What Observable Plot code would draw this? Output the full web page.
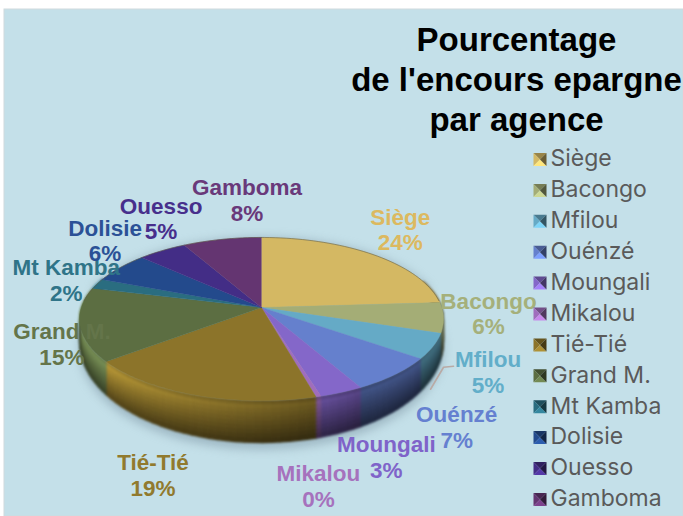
<!DOCTYPE html>
<html>
<head>
<meta charset="utf-8">
<script src="https://cdn.jsdelivr.net/npm/d3@7"></script>
<script src="https://cdn.jsdelivr.net/npm/@observablehq/plot@0.6"></script>
<style>
html,body{margin:0;padding:0;background:#fff}
svg{display:block}
</style>
</head>
<body>
<div id="chart"></div>
<script>
const agencies = ["Siège","Bacongo","Mfilou","Ouénzé","Moungali","Mikalou","Tié-Tié","Grand M.","Mt Kamba","Dolisie","Ouesso","Gamboma"];
const shares = [24, 6, 5, 7, 3.4, 0.4, 18.6, 14.6, 2, 6, 5, 8];
const sliceColors = ["#d4b863","#a4ad76","#65aac6","#6580cd","#8467c9","#a06dbd","#8c742a","#5c6e42","#2a6d80","#234a8c","#432d86","#643571"];
const labelColors = ["#dcb95f","#a5b07b","#62aec9","#6580d0","#7f63c9","#a672bd","#917a2e","#64754a","#2f7488","#2b5196","#472f8c","#69397a"];
const titleText = "Pourcentage\nde l'encours epargne\npar agence";
// label placement, as pixel offsets from the rim point at each slice's middle angle
const labelOffsets = [[27,-25.5],[45,-4.5],[55,25.5],[62,52.5],[45,64.5],[0,89.5],[-43,79.5],[-18,19.5],[-31,-4.5],[-15,-27.5],[-1,-32.5],[25,-39.5]];
const leaderOffsets = [[20.5,20],[10.5,21],[-2.5,43]];

const W = 683, H = 516;
const boldFont = "'Liberation Sans', Arial, sans-serif";
const legendFont = "Inter, 'Liberation Sans', sans-serif";
const apex = {x:261, y:307}, B = 180.2, A = 79.9, e = 0.141;
const project = th => {
  const z = Math.cos(th), s = Math.sin(th), den = 1 + e*z;
  return {x: apex.x + B*s/den, y: apex.y - A*z/den};
};
const depth = th => 19 - 23*Math.cos(th);
const total = d3.sum(shares);
let acc = 0;
const slices = agencies.map((name,i)=>{
  const a0 = acc/total*2*Math.PI; acc += shares[i];
  const a1 = acc/total*2*Math.PI;
  return {name, i, a0, a1, mid:(a0+a1)/2, share:shares[i], color:sliceColors[i], labelColor:labelColors[i]};
});
const scale = (c,k)=>{const r=d3.rgb(c);return d3.rgb(Math.min(255,r.r*k),Math.min(255,r.g*k),Math.min(255,r.b*k)).formatHex();};
const steps = (a0,a1,step)=>{const n=Math.max(1,Math.ceil((a1-a0)/step));return d3.range(n+1).map(k=>a0+(a1-a0)*k/n);};
const rad = d=>d*Math.PI/180;

const topRows = slices.flatMap(s=>{
  const pts=[{...apex},...steps(s.a0,s.a1,rad(1)).map(project)];
  return pts.map(p=>({id:s.name,x:p.x,y:p.y,color:s.color}));
});
const rimRows = steps(rad(-85),rad(85),rad(2)).map(project);
const angular = th=>{const d=th*180/Math.PI;return d<=150?0.5:d>=230?1:0.5+(d-150)/80*0.5;};
const vertical = t=>t<0.12?1.0+t*2.5:1.3-(t-0.12)/0.88*0.7;
const bandsT = d3.range(0,1.0001,1/10);
const sideRows = [];
slices.forEach(s=>{
  const lo=Math.max(s.a0,rad(70)), hi=Math.min(s.a1,rad(292));
  if(hi<=lo) return;
  const ths=steps(lo,hi,rad(2.5));
  for(let k=0;k<ths.length-1;k++){
    for(let b=0;b<bandsT.length-1;b++){
      const t0=bandsT[b],t1=bandsT[b+1],a=ths[k],c=ths[k+1];
      const pa=project(a),pc=project(c);
      const col=scale(s.color,angular((a+c)/2)*vertical((t0+t1)/2));
      const id=`${s.name}-${k}-${b}`;
      [[pa.x,pa.y+depth(a)*t0],[pc.x,pc.y+depth(c)*t0],[pc.x,pc.y+depth(c)*t1],[pa.x,pa.y+depth(a)*t1]]
        .forEach(([x,y])=>sideRows.push({id,x,y,color:col}));
    }
  }
});
const shadowRows = steps(rad(75),rad(285),rad(3)).map(th=>{const p=project(th);return {x:p.x,y:p.y+depth(th)+7};});
const shadowClosed = [...steps(rad(285),rad(435),rad(5)).map(project),...shadowRows];

const labels = slices.map((s,i)=>{
  const p=project(s.mid);
  return {x:p.x+labelOffsets[i][0],y:p.y+labelOffsets[i][1],text:`${s.name}\n${Math.round(s.share)}%`,color:s.labelColor};
});
const mfilouRim = project(slices[2].mid);
const leader = leaderOffsets.map(([dx,dy])=>({x:mfilouRim.x+dx,y:mfilouRim.y+dy}));

const legendX=533, legendY=i=>158.5+30.9*i, sw=13;
const legendRows = slices.flatMap(s=>{
  const x0=legendX,x1=legendX+sw,y0=legendY(s.i)-sw/2+0.5,y1=y0+sw,cx=x0+sw/2,cy=y0+sw/2;
  const faces=[
    ["t",[[x0,y0],[x1,y0],[cx,cy]],0.72],
    ["l",[[x0,y0],[x0,y1],[cx,cy]],1.0],
    ["b",[[x0,y1],[x1,y1],[cx,cy]],1.25],
    ["r",[[x1,y0],[x1,y1],[cx,cy]],0.5]
  ];
  return faces.flatMap(([f,pts,k])=>pts.map(([x,y])=>({id:s.name+f,x,y,color:scale(s.color,k)})));
});

const chart = Plot.plot({
  width:W,height:H,margin:0,
  style:{background:"#fff"},
  x:{domain:[0,W],range:[0,W],axis:null},
  y:{domain:[0,H],range:[0,H],axis:null},
  color:{type:"identity"},
  marks:[
    Plot.rect([{}],{x1:()=>4,x2:()=>W,y1:()=>9,y2:()=>H,fill:"#c4e0e9",stroke:"#d0dadd",strokeWidth:1}),
    Plot.text([titleText],{x:()=>516,y:()=>78,text:d=>d,fontFamily:boldFont,fontWeight:700,fontSize:33,lineHeight:1.21,fill:"#000",textAnchor:"middle",lineAnchor:"middle"}),
    Plot.line(shadowClosed,{x:"x",y:"y",fill:"#7f98a6",fillOpacity:0.55,stroke:"none"}),
    Plot.line(sideRows,{x:"x",y:"y",z:"id",fill:"color",stroke:"color",strokeWidth:1.3}),
    Plot.line(topRows,{x:"x",y:"y",z:"id",fill:"color",stroke:"color",strokeWidth:0.4}),
    Plot.line(rimRows,{x:"x",y:"y",stroke:"#5d5a44",strokeOpacity:0.55,strokeWidth:1}),
    Plot.line(leader,{x:"x",y:"y",stroke:"#b9aaa5",strokeWidth:1.6}),
    Plot.text(labels,{x:"x",y:"y",text:"text",fill:"color",fontFamily:boldFont,fontWeight:700,fontSize:22.5,lineHeight:1.15,textAnchor:"middle",lineAnchor:"middle"}),
    Plot.line(legendRows,{x:"x",y:"y",z:"id",fill:"color",stroke:"none"}),
    Plot.text(slices,{x:()=>550,y:d=>legendY(d.i),text:"name",fill:"#5a5a5a",fontFamily:legendFont,fontSize:23,textAnchor:"start",lineAnchor:"middle"})
  ]
});
const lineGroups = chart.querySelectorAll('g[aria-label="line"]');
["blur(5px)","blur(1px)","blur(.4px)"].forEach((f,i)=>{lineGroups[i].style.filter=f;});
document.getElementById("chart").appendChild(chart);
</script>
</body>
</html>
